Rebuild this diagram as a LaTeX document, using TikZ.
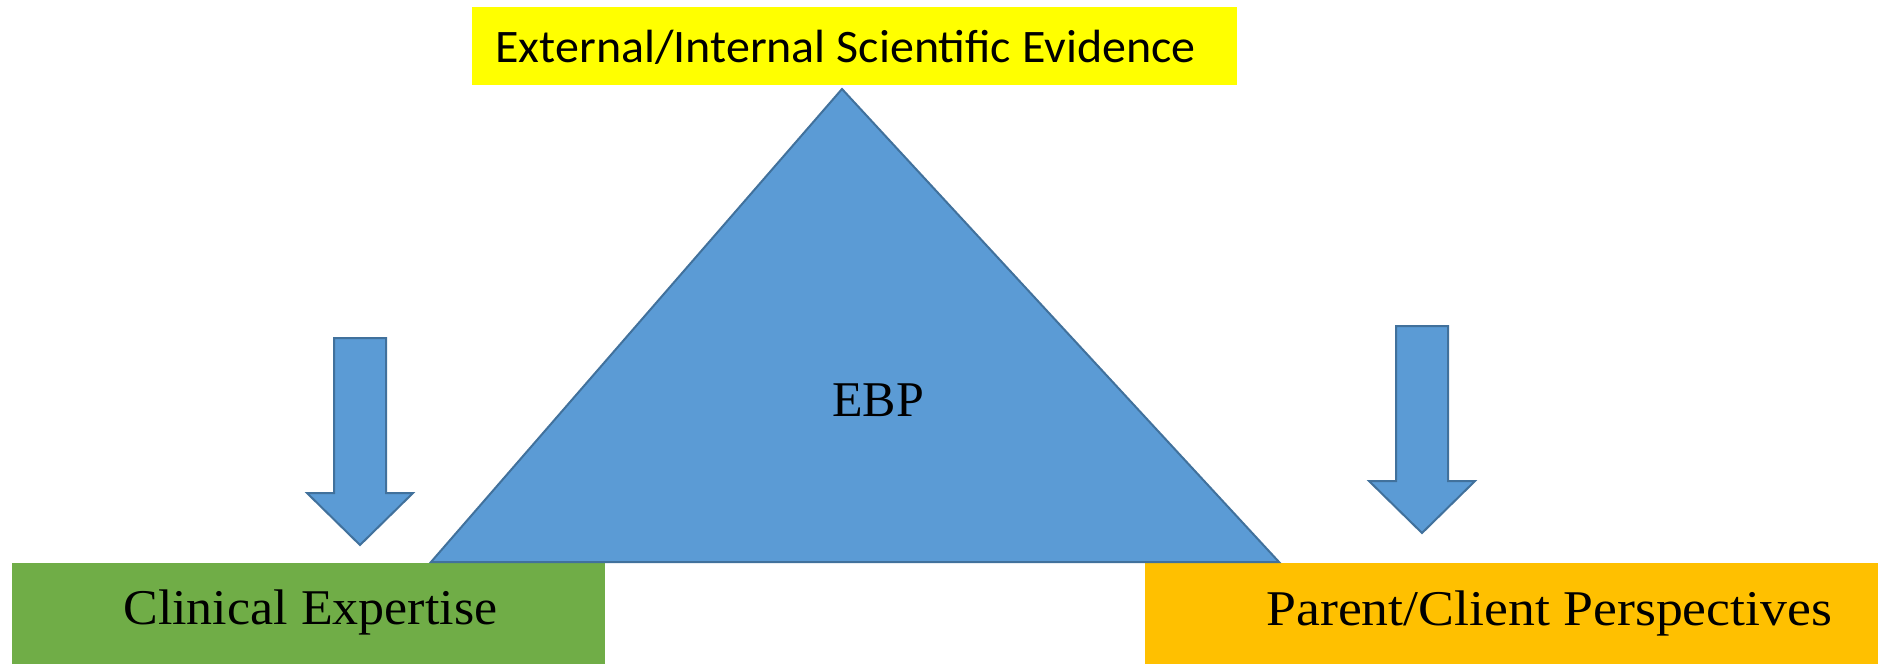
\documentclass[tikz,border=0pt]{standalone}
\usepackage{fontspec}
\setmainfont{Liberation Serif}
\newfontfamily\calib{Carlito}
\definecolor{ebpblue}{HTML}{5B9BD5}
\definecolor{ebpedge}{HTML}{41719C}
\definecolor{ebpgreen}{HTML}{70AD47}
\definecolor{ebporange}{HTML}{FFC000}
\definecolor{ebpyellow}{HTML}{FFFF00}
\begin{document}
\begin{tikzpicture}[x=0.5pt,y=-0.5pt,
  blueshape/.style={fill=ebpblue,draw=ebpedge,line width=1pt,line join=miter},
  serif/.style={font=\fontsize{25}{30}\selectfont,inner sep=0pt,anchor=base west}]
\useasboundingbox (0,0) rectangle (1878,664);
\fill[white] (0,0) rectangle (1878,664);
% boxes
\fill[ebpyellow] (472,7) rectangle (1237,85);
\fill[ebpgreen] (12,563) rectangle (605,664);
\fill[ebporange] (1145,563) rectangle (1878,664);
% triangle
\draw[blueshape] (842,89) -- (1279,562) -- (431,562) -- cycle;
% left arrow
\draw[blueshape] (334,338) -- (386,338) -- (386,493) -- (413,493) -- (360,545) -- (307,493) -- (334,493) -- cycle;
% right arrow
\draw[blueshape] (1396,326) -- (1448,326) -- (1448,481) -- (1475,481) -- (1422,533) -- (1369,481) -- (1396,481) -- cycle;
% texts
\node[serif,font=\calib\fontsize{23.3}{28}\selectfont] (ext) at (495,62) {\scalebox{1.03}[1]{External/Internal Scientific Evidence}};
\node[serif] (ebp) at (832,416) {EBP};
\node[serif] (clin) at (123,624) {\scalebox{1.04}[1]{Clinical Expertise}};
\node[serif] (par) at (1266,625) {\scalebox{1.075}[1]{Parent/Client Perspectives}};
\end{tikzpicture}
\end{document}
